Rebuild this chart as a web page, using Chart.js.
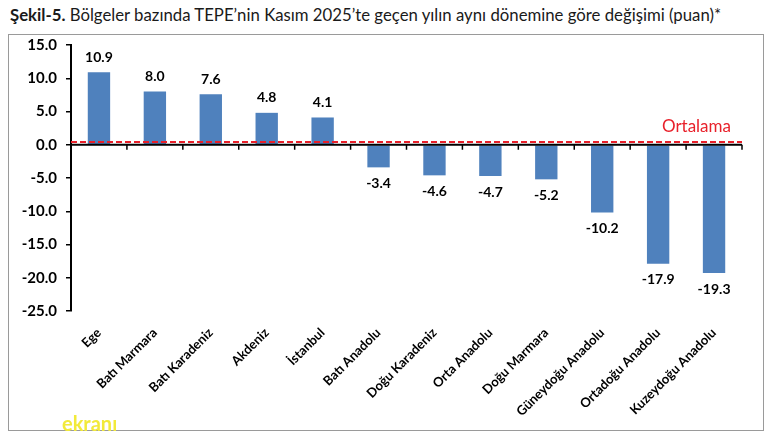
<!DOCTYPE html>
<html><head><meta charset="utf-8">
<script src="https://cdn.jsdelivr.net/npm/chart.js@4.4.0/dist/chart.umd.min.js"></script>
<style>
html,body{margin:0;padding:0;background:#fff;width:768px;height:440px;overflow:hidden;font-family:Lato,"Open Sans",sans-serif;}
#title{position:absolute;left:10px;top:4px;font-size:18px;color:#1a1a1a;white-space:nowrap;}
#title b{font-weight:bold}
#box{position:absolute;left:8px;top:34px;width:756px;height:397px;border:1.5px solid #9a9a9a;box-sizing:border-box}
#wrap{position:absolute;left:0;top:0;width:768px;height:440px}
#logo{position:absolute;left:62px;top:411px;font-size:20px;font-weight:bold;color:#f2ea3a;}
</style></head>
<body>
<div id="title"><b>Şekil-5.</b> Bölgeler bazında TEPE’nin Kasım 2025’te geçen yılın aynı dönemine göre değişimi (puan)*</div>
<div id="box"></div>
<div id="wrap"><canvas id="c" width="768" height="440"></canvas></div>
<div id="logo">ekranı</div>
<script>
const categories = ["Ege","Batı Marmara","Batı Karadeniz","Akdeniz","İstanbul","Batı Anadolu","Doğu Karadeniz","Orta Anadolu","Doğu Marmara","Güneydoğu Anadolu","Ortadoğu Anadolu","Kuzeydoğu Anadolu"];
const values = [10.9, 8.0, 7.6, 4.8, 4.1, -3.4, -4.6, -4.7, -5.2, -10.2, -17.9, -19.3];
const averageValue = 0.4;
const averageLabel = "Ortalama";
const yTicks = [15, 10, 5, 0, -5, -10, -15, -20, -25];

// fit title to the reference width
(function () {
  const t = document.getElementById('title');
  let fs = 22;
  t.style.fontSize = fs + 'px';
  while (t.getBoundingClientRect().width > 716 && fs > 10) { fs -= 0.25; t.style.fontSize = fs + 'px'; }
})();

const overlay = {
  id: 'overlay',
  afterDatasetsDraw(chart) {
    const ctx = chart.ctx, ca = chart.chartArea;
    const x = chart.scales.x, y = chart.scales.y;
    const y0 = y.getPixelForValue(0);
    ctx.save();
    ctx.strokeStyle = '#000'; ctx.lineWidth = 2;
    ctx.beginPath(); ctx.moveTo(ca.left, y0); ctx.lineTo(ca.right, y0); ctx.stroke();
    ctx.lineWidth = 1.5;
    const step = x.getPixelForValue(1) - x.getPixelForValue(0);
    for (let i = 0; i <= categories.length; i++) {
      const px = x.getPixelForValue(0) - step / 2 + i * step;
      ctx.beginPath(); ctx.moveTo(px, y0); ctx.lineTo(px, y0 + 5); ctx.stroke();
    }
    const ya = y.getPixelForValue(averageValue);
    ctx.strokeStyle = '#e8202a'; ctx.lineWidth = 2; ctx.setLineDash([6, 3]);
    ctx.beginPath(); ctx.moveTo(ca.left, ya); ctx.lineTo(ca.right, ya); ctx.stroke();
    ctx.setLineDash([]);
    ctx.fillStyle = '#e8202a'; ctx.font = '17px Lato, sans-serif';
    ctx.textAlign = 'right'; ctx.textBaseline = 'middle';
    ctx.fillText(averageLabel, ca.right - 11, ya - 16);
    ctx.fillStyle = '#000'; ctx.font = 'bold 14px Lato, sans-serif'; ctx.textAlign = 'center';
    const meta = chart.getDatasetMeta(0);
    meta.data.forEach((bar, i) => {
      const v = values[i];
      const ty = v >= 0 ? bar.y - 15 : bar.y + 16;
      ctx.fillText(v.toFixed(1), bar.x, ty);
    });
    ctx.restore();
  }
};

new Chart(document.getElementById('c'), {
  type: 'bar',
  data: { labels: categories, datasets: [{ data: values, backgroundColor: '#4f81bd', barPercentage: 0.4, categoryPercentage: 1.0 }] },
  options: {
    responsive: false, animation: false,
    layout: { padding: { left: 8, top: 45, right: 26, bottom: 0 } },
    plugins: { legend: { display: false }, tooltip: { enabled: false } },
    scales: {
      y: {
        min: -25, max: 15,
        afterBuildTicks(s) { s.ticks = yTicks.map(v => ({ value: v })); },
        afterFit(s) { s.width = 63; },
        border: { display: true, color: '#000', width: 2 },
        grid: { drawOnChartArea: false, drawTicks: true, tickLength: 5, color: '#000', lineWidth: 1.5 },
        ticks: { color: '#000', padding: 9, font: { family: 'Lato', weight: 'bold', size: 15 }, callback: v => Number(v).toFixed(1) }
      },
      x: {
        afterFit(s) { s.height = 129; },
        border: { display: false },
        grid: { display: false },
        ticks: { color: '#000', minRotation: 45, maxRotation: 45, padding: 6, autoSkip: false, font: { family: 'Lato', weight: 'bold', size: 13 } }
      }
    }
  },
  plugins: [overlay]
});
</script>
</body></html>
